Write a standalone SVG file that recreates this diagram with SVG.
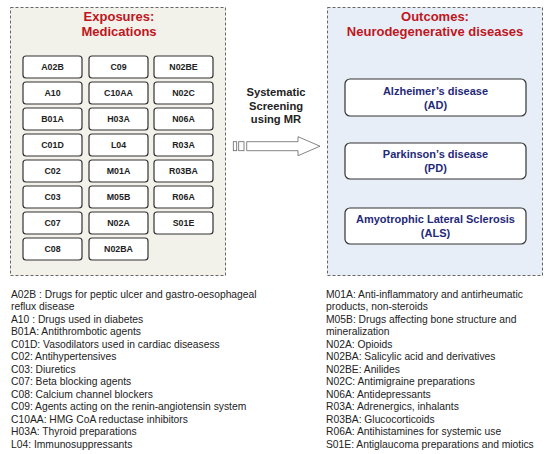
<svg xmlns="http://www.w3.org/2000/svg" width="550" height="454" viewBox="0 0 550 454">
<style>
.panel{stroke:#666;stroke-width:1;stroke-dasharray:3,2}
.title{font-family:"Liberation Sans",Arial,sans-serif;font-weight:bold;font-size:13px;fill:#c0161d;text-anchor:middle}
.med rect{fill:#fff;stroke:#333;stroke-width:1.2}
.med text{font-family:"Liberation Sans",Arial,sans-serif;font-weight:bold;font-size:8.8px;fill:#222;text-anchor:middle}
.out rect{fill:#fff;stroke:#333;stroke-width:1.2}
.out text{font-family:"Liberation Sans",Arial,sans-serif;font-weight:bold;font-size:11px;fill:#1f2a78;text-anchor:middle}
.lbl{font-family:"Liberation Sans",Arial,sans-serif;font-weight:bold;font-size:11.2px;fill:#222;text-anchor:middle}
.leg{font-family:"Liberation Sans",Arial,sans-serif;font-size:10.3px;fill:#222}
</style>
<rect width="550" height="454" fill="#fff"/>
<g id="exposures">
<rect class="panel" x="10.5" y="7.5" width="215" height="268" fill="#f2f1ea"/>
<text class="title" x="119" y="21">Exposures:</text>
<text class="title" x="119" y="36">Medications</text>
</g>
<g id="outcomes">
<rect class="panel" x="327.5" y="7.5" width="215" height="268" fill="#e7eef8"/>
<text class="title" x="435" y="21">Outcomes:</text>
<text class="title" x="435" y="36">Neurodegenerative diseases</text>
</g>
<g class="med">
<g id="A02B"><rect x="23" y="56" width="59" height="22" rx="3"/><text x="52.5" y="70">A02B</text></g>
<g id="A10"><rect x="23" y="82" width="59" height="22" rx="3"/><text x="52.5" y="96">A10</text></g>
<g id="B01A"><rect x="23" y="108" width="59" height="22" rx="3"/><text x="52.5" y="122">B01A</text></g>
<g id="C01D"><rect x="23" y="134" width="59" height="22" rx="3"/><text x="52.5" y="148">C01D</text></g>
<g id="C02"><rect x="23" y="160" width="59" height="22" rx="3"/><text x="52.5" y="174">C02</text></g>
<g id="C03"><rect x="23" y="186" width="59" height="22" rx="3"/><text x="52.5" y="200">C03</text></g>
<g id="C07"><rect x="23" y="212" width="59" height="22" rx="3"/><text x="52.5" y="226">C07</text></g>
<g id="C08"><rect x="23" y="238" width="59" height="22" rx="3"/><text x="52.5" y="252">C08</text></g>
<g id="C09"><rect x="89" y="56" width="59" height="22" rx="3"/><text x="118.5" y="70">C09</text></g>
<g id="C10AA"><rect x="89" y="82" width="59" height="22" rx="3"/><text x="118.5" y="96">C10AA</text></g>
<g id="H03A"><rect x="89" y="108" width="59" height="22" rx="3"/><text x="118.5" y="122">H03A</text></g>
<g id="L04"><rect x="89" y="134" width="59" height="22" rx="3"/><text x="118.5" y="148">L04</text></g>
<g id="M01A"><rect x="89" y="160" width="59" height="22" rx="3"/><text x="118.5" y="174">M01A</text></g>
<g id="M05B"><rect x="89" y="186" width="59" height="22" rx="3"/><text x="118.5" y="200">M05B</text></g>
<g id="N02A"><rect x="89" y="212" width="59" height="22" rx="3"/><text x="118.5" y="226">N02A</text></g>
<g id="N02BA"><rect x="89" y="238" width="59" height="22" rx="3"/><text x="118.5" y="252">N02BA</text></g>
<g id="N02BE"><rect x="154" y="56" width="59" height="22" rx="3"/><text x="183.5" y="70">N02BE</text></g>
<g id="N02C"><rect x="154" y="82" width="59" height="22" rx="3"/><text x="183.5" y="96">N02C</text></g>
<g id="N06A"><rect x="154" y="108" width="59" height="22" rx="3"/><text x="183.5" y="122">N06A</text></g>
<g id="R03A"><rect x="154" y="134" width="59" height="22" rx="3"/><text x="183.5" y="148">R03A</text></g>
<g id="R03BA"><rect x="154" y="160" width="59" height="22" rx="3"/><text x="183.5" y="174">R03BA</text></g>
<g id="R06A"><rect x="154" y="186" width="59" height="22" rx="3"/><text x="183.5" y="200">R06A</text></g>
<g id="S01E"><rect x="154" y="212" width="59" height="22" rx="3"/><text x="183.5" y="226">S01E</text></g>
</g>
<g class="out">
<g id="AD"><rect x="345" y="79" width="181" height="37" rx="5"/><text x="435.5" y="95">Alzheimer’s disease</text><text x="435.5" y="109">(AD)</text></g>
<g id="PD"><rect x="345" y="143" width="181" height="36" rx="5"/><text x="435.5" y="158">Parkinson’s disease</text><text x="435.5" y="172">(PD)</text></g>
<g id="ALS"><rect x="345" y="208" width="181" height="36" rx="5"/><text x="435.5" y="223">Amyotrophic Lateral Sclerosis</text><text x="435.5" y="237">(ALS)</text></g>
</g>
<g id="connectors">
<text class="lbl" x="276" y="96">Systematic</text>
<text class="lbl" x="276" y="109.5">Screening</text>
<text class="lbl" x="276" y="123">using MR</text>
<g fill="#fff" stroke="#666" stroke-width="0.8">
<rect x="233.3" y="141.7" width="3.4" height="9"/>
<rect x="238.7" y="141.7" width="5.3" height="9"/>
<path d="M246.7,141.7 H298 V136.7 L320,146.2 L298,155.7 V150.7 H246.7 Z"/>
</g>
</g>
<g id="legend-left" class="leg">
<text x="11" y="297.5">A02B : Drugs for peptic ulcer and gastro-oesophageal</text>
<text x="11" y="310">reflux disease</text>
<text x="11" y="322.5">A10 : Drugs used in diabetes</text>
<text x="11" y="335">B01A: Antithrombotic agents</text>
<text x="11" y="347.5">C01D: Vasodilators used in cardiac diseasess</text>
<text x="11" y="360">C02: Antihypertensives</text>
<text x="11" y="372.5">C03: Diuretics</text>
<text x="11" y="385">C07: Beta blocking agents</text>
<text x="11" y="397.5">C08: Calcium channel blockers</text>
<text x="11" y="410">C09: Agents acting on the renin-angiotensin system</text>
<text x="11" y="422.5">C10AA: HMG CoA reductase inhibitors</text>
<text x="11" y="435">H03A: Thyroid preparations</text>
<text x="11" y="447.5">L04: Immunosuppressants</text>
</g>
<g id="legend-right" class="leg">
<text x="326" y="297.5">M01A: Anti-inflammatory and antirheumatic</text>
<text x="326" y="310">products, non-steroids</text>
<text x="326" y="322.5">M05B: Drugs affecting bone structure and</text>
<text x="326" y="335">mineralization</text>
<text x="326" y="347.5">N02A: Opioids</text>
<text x="326" y="360">N02BA: Salicylic acid and derivatives</text>
<text x="326" y="372.5">N02BE: Anilides</text>
<text x="326" y="385">N02C: Antimigraine preparations</text>
<text x="326" y="397.5">N06A: Antidepressants</text>
<text x="326" y="410">R03A: Adrenergics, inhalants</text>
<text x="326" y="422.5">R03BA: Glucocorticoids</text>
<text x="326" y="435">R06A: Antihistamines for systemic use</text>
<text x="326" y="447.5">S01E: Antiglaucoma preparations and miotics</text>
</g>
</svg>
